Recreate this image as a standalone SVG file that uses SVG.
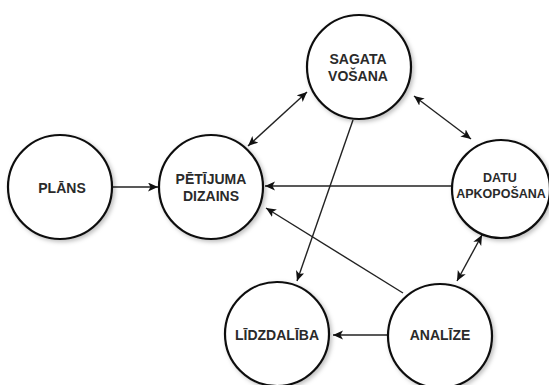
<svg xmlns="http://www.w3.org/2000/svg" width="549" height="385" viewBox="0 0 549 385">
<style>
.node circle{fill:#fff;stroke:#111;stroke-width:2.2;filter:url(#sh)}
.node text{font-family:"Liberation Sans",Arial,sans-serif;font-weight:bold;font-size:14px;fill:#2a2a2a;text-anchor:middle}
.node text.sm{font-size:12.5px}
.conn line{stroke:#222;stroke-width:1.4;fill:none}
</style>
<defs>
<filter id="sh" x="-20%" y="-20%" width="150%" height="150%">
<feDropShadow dx="2" dy="2" stdDeviation="2" flood-color="#000" flood-opacity="0.25"/>
</filter>
<marker id="ah" markerUnits="userSpaceOnUse" markerWidth="12" markerHeight="10" refX="10" refY="4.5" orient="auto-start-reverse">
<path d="M0,0 L10,4.5 L0,9 L2.5,4.5 Z" fill="#111"/>
</marker>
</defs>
<rect width="549" height="385" fill="#fff"/>
<g class="conn">
<line x1="113" y1="187" x2="158" y2="187" marker-end="url(#ah)"/>
<line x1="307" y1="92" x2="248" y2="146" marker-start="url(#ah)" marker-end="url(#ah)"/>
<line x1="414" y1="96" x2="471" y2="139" marker-start="url(#ah)" marker-end="url(#ah)"/>
<line x1="452" y1="186" x2="265" y2="186" marker-end="url(#ah)"/>
<line x1="403" y1="293" x2="266" y2="208" marker-end="url(#ah)"/>
<line x1="353" y1="120" x2="297" y2="281" marker-end="url(#ah)"/>
<line x1="457" y1="281" x2="482" y2="235" marker-start="url(#ah)" marker-end="url(#ah)"/>
<line x1="387" y1="335" x2="333" y2="335" marker-end="url(#ah)"/>
</g>
<g id="plans" class="node">
<circle cx="60" cy="187" r="52"/>
<text x="62" y="193">PLĀNS</text>
</g>
<g id="petijuma" class="node">
<circle cx="211" cy="187" r="52"/>
<text x="211" y="184">PĒTĪJUMA</text>
<text x="211" y="201">DIZAINS</text>
</g>
<g id="sagatavosana" class="node">
<circle cx="359" cy="67" r="52"/>
<text x="358" y="64">SAGATA</text>
<text x="358" y="81">VOŠANA</text>
</g>
<g id="datu" class="node">
<circle cx="501" cy="189" r="49"/>
<text class="sm" x="500" y="182">DATU</text>
<text class="sm" x="501" y="198">APKOPOŠANA</text>
</g>
<g id="lidzdaliba" class="node">
<circle cx="277" cy="334" r="52"/>
<text x="277" y="340">LĪDZDALĪBA</text>
</g>
<g id="analize" class="node">
<circle cx="440" cy="336" r="52"/>
<text x="440" y="340">ANALĪZE</text>
</g>
</svg>
